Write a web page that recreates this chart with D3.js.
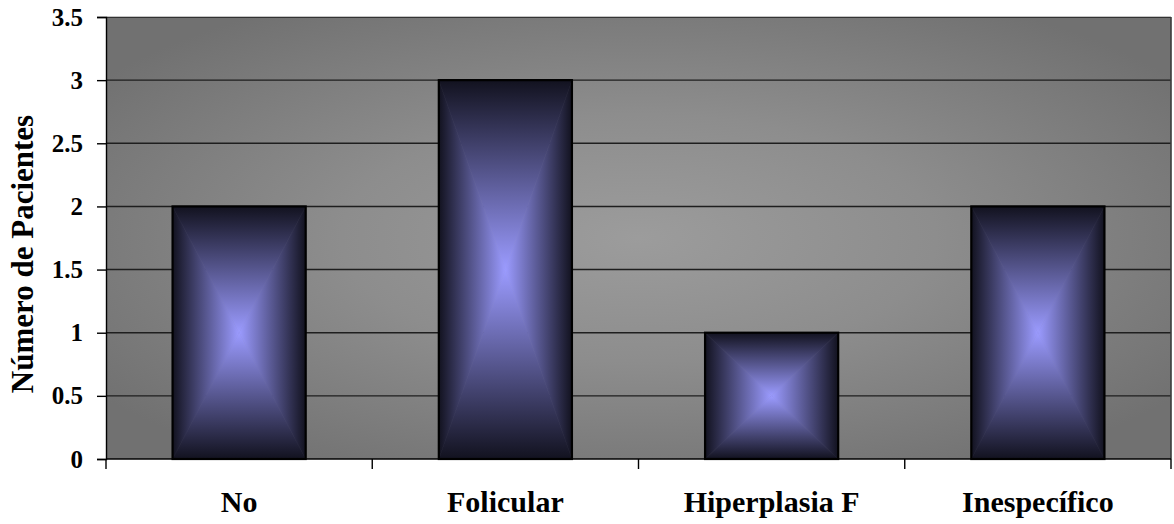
<!DOCTYPE html>
<html>
<head>
<meta charset="utf-8">
<script src="https://cdn.jsdelivr.net/npm/d3@7"></script>
<style>
  html, body { margin: 0; padding: 0; background: #fff; }
  svg { display: block; }
  svg text { font-family: "Liberation Serif", Tinos, "Times New Roman", Times, serif; font-weight: bold; fill: #000; }
</style>
</head>
<body>
<svg id="chart" width="1174" height="524"></svg>
<script>
// Categories and patient counts
const categories = ["No", "Folicular", "Hiperplasia F", "Inespecífico"];
const values = [2, 3, 1, 2];
const yTicks = [0, 0.5, 1, 1.5, 2, 2.5, 3, 3.5];
const yTickLabels = ["0", "0.5", "1", "1.5", "2", "2.5", "3", "3.5"];
const yTitle = "Número de Pacientes";

const SERIF = '"Liberation Serif", Tinos, "Times New Roman", Times, serif';
const plot = { left: 106, top: 17, right: 1171, bottom: 459 };

const svg = d3.select("#chart");
const defs = svg.append("defs");

const x = d3.scaleBand()
  .domain(categories)
  .range([plot.left, plot.right])
  .paddingInner(0.5)
  .paddingOuter(0.25);

const y = d3.scaleLinear()
  .domain([0, 3.5])
  .range([plot.bottom, plot.top]);

// Rectangular "from centre" gradient fill: four triangles meeting at the
// centre, each shaded from its edge towards the middle.
let gid = 0;
function centreFill(g, x0, y0, x1, y1, edgeColor, midColor) {
  const cx = (x0 + x1) / 2, cy = (y0 + y1) / 2;
  const parts = [
    { pts: [[x0, y0], [x1, y0], [cx, cy]], from: [cx, y0], to: [cx, cy] },
    { pts: [[x0, y1], [x1, y1], [cx, cy]], from: [cx, y1], to: [cx, cy] },
    { pts: [[x0, y0], [x0, y1], [cx, cy]], from: [x0, cy], to: [cx, cy] },
    { pts: [[x1, y0], [x1, y1], [cx, cy]], from: [x1, cy], to: [cx, cy] }
  ];
  parts.forEach(p => {
    const id = "cg" + (gid++);
    const lg = defs.append("linearGradient")
      .attr("id", id)
      .attr("gradientUnits", "userSpaceOnUse")
      .attr("x1", p.from[0]).attr("y1", p.from[1])
      .attr("x2", p.to[0]).attr("y2", p.to[1]);
    lg.append("stop").attr("offset", 0).attr("stop-color", edgeColor);
    lg.append("stop").attr("offset", 1).attr("stop-color", midColor);
    g.append("polygon")
      .attr("points", p.pts.map(d => d.join(",")).join(" "))
      .attr("fill", `url(#${id})`)
      .attr("stroke", `url(#${id})`)
      .attr("stroke-width", 0.6);
  });
}

// Plot area background: soft grey glow from the centre
const bgGrad = defs.append("radialGradient")
  .attr("id", "plotBg")
  .attr("cx", 0.5).attr("cy", 0.5).attr("r", 0.62);
bgGrad.append("stop").attr("offset", 0).attr("stop-color", "#9c9c9c");
bgGrad.append("stop").attr("offset", 0.45).attr("stop-color", "#8d8d8d");
bgGrad.append("stop").attr("offset", 1).attr("stop-color", "#717171");
svg.append("rect")
  .attr("x", plot.left).attr("y", plot.top)
  .attr("width", plot.right - plot.left)
  .attr("height", plot.bottom - plot.top)
  .attr("fill", "url(#plotBg)");

// Horizontal gridlines
svg.append("g")
  .selectAll("line")
  .data(yTicks.filter(d => d > 0))
  .join("line")
  .attr("x1", plot.left).attr("x2", plot.right)
  .attr("y1", d => y(d)).attr("y2", d => y(d))
  .attr("stroke", "#1e1e1e")
  .attr("stroke-width", 1.4);

// Plot border (top highlight and right shade)
svg.append("line")
  .attr("x1", plot.left).attr("x2", plot.right)
  .attr("y1", plot.top - 0.5).attr("y2", plot.top - 0.5)
  .attr("stroke", "#c4c4c4").attr("stroke-width", 1);
svg.append("line")
  .attr("x1", plot.right).attr("x2", plot.right)
  .attr("y1", plot.top).attr("y2", plot.bottom)
  .attr("stroke", "#3c3c3c").attr("stroke-width", 1.6);

// Bars
const bars = svg.append("g");
categories.forEach((c, i) => {
  const bx0 = x(c), bx1 = x(c) + x.bandwidth();
  const by0 = y(values[i]), by1 = y(0);
  const g = bars.append("g");
  centreFill(g, bx0, by0, bx1, by1, "#12121f", "#9b9bff");
  g.append("rect")
    .attr("x", bx0).attr("y", by0)
    .attr("width", bx1 - bx0).attr("height", by1 - by0)
    .attr("fill", "none")
    .attr("stroke", "#000")
    .attr("stroke-width", 2.2);
});

// Y axis
const yAxis = d3.axisLeft(y)
  .tickValues(yTicks)
  .tickFormat((d, i) => yTickLabels[i])
  .tickSize(9)
  .tickPadding(14);
const ya = svg.append("g")
  .attr("transform", `translate(${plot.left},0)`)
  .call(yAxis);
ya.select(".domain").attr("stroke", "#000").attr("stroke-width", 1.4);
ya.selectAll(".tick line").attr("stroke", "#000").attr("stroke-width", 1.4);
ya.selectAll(".tick text")
  .style("font-family", SERIF)
  .style("font-size", "25px")
  .style("font-weight", "bold")
  .attr("fill", "#000");

// X axis: baseline plus tick marks at category boundaries
const boundaries = [plot.left].concat(
  categories.map(c => x(c) + x.bandwidth() + x.step() * x.paddingInner() / 2)
);
boundaries[boundaries.length - 1] = plot.right;
svg.append("line")
  .attr("x1", plot.left).attr("x2", plot.right)
  .attr("y1", plot.bottom).attr("y2", plot.bottom)
  .attr("stroke", "#000").attr("stroke-width", 1.4);
svg.append("g")
  .selectAll("line")
  .data(boundaries)
  .join("line")
  .attr("x1", d => d).attr("x2", d => d)
  .attr("y1", plot.bottom).attr("y2", plot.bottom + 10)
  .attr("stroke", "#000").attr("stroke-width", 1.4);

// Category labels
svg.append("g")
  .selectAll("text")
  .data(categories)
  .join("text")
  .attr("x", d => x(d) + x.bandwidth() / 2)
  .attr("y", 512)
  .attr("text-anchor", "middle")
  .style("font-family", SERIF)
  .style("font-size", "30px")
  .text(d => d);

// Y axis title
svg.append("text")
  .attr("transform", `translate(33,254) rotate(-90)`)
  .attr("text-anchor", "middle")
  .style("font-family", SERIF)
  .style("font-size", "31px")
  .text(yTitle);
</script>
</body>
</html>
